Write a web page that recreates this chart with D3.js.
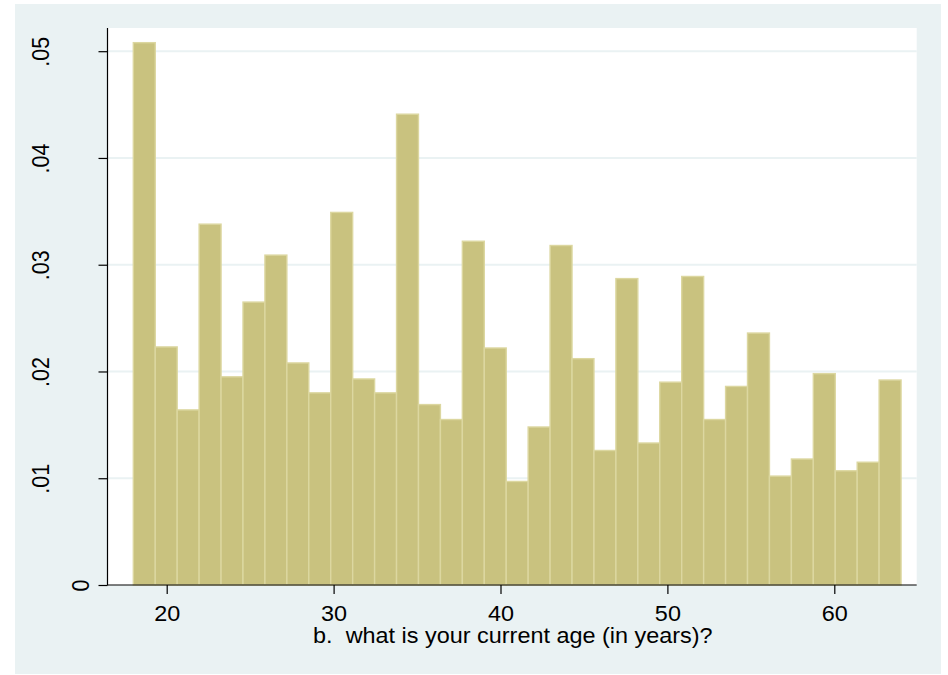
<!DOCTYPE html>
<html>
<head>
<meta charset="utf-8">
<script src="https://cdn.jsdelivr.net/npm/d3@7/dist/d3.min.js"></script>
<style>
  html, body { margin: 0; padding: 0; background: #ffffff; }
  svg { display: block; }
  text { font-family: "Liberation Sans", Arial, Helvetica, sans-serif; fill: #000; }
</style>
</head>
<body>
<svg id="chart" width="948" height="675"></svg>
<script>
// ---- data ----
const binStart = 18;
const binEnd = 64;
const density = [
  0.0508, 0.0223, 0.0164, 0.0338, 0.0195, 0.0265, 0.0309, 0.0208, 0.0180, 0.0349,
  0.0193, 0.0180, 0.0441, 0.0169, 0.0155, 0.0322, 0.0222, 0.0097, 0.0148, 0.0318,
  0.0212, 0.0126, 0.0287, 0.0133, 0.0190, 0.0289, 0.0155, 0.0186, 0.0236, 0.0102,
  0.0118, 0.0198, 0.0107, 0.0115, 0.0192
];
const xTicks = [20, 30, 40, 50, 60];
const yTicks = [0, 0.01, 0.02, 0.03, 0.04, 0.05];
const yTickLabels = ["0", ".01", ".02", ".03", ".04", ".05"];
const xTitle = "b.  what is your current age (in years)?";

// ---- layout ----
const svg = d3.select("#chart");
const W = 948, H = 675;
const bg = { x: 15, y: 4, w: 926, h: 670 };
const plot = { left: 108, right: 916.7, top: 28, bottom: 585 };
const stretch = 1.09;
const fontSize = 21.5;

const x = d3.scaleLinear().domain([20, 60]).range([166.7, 834.3]);
const y = d3.scaleLinear().domain([0, 0.05]).range([585, 51.2]);

svg.append("rect").attr("x", bg.x).attr("y", bg.y).attr("width", bg.w).attr("height", bg.h)
  .attr("fill", "#eaf2f3");
svg.append("rect").attr("x", plot.left).attr("y", plot.top)
  .attr("width", plot.right - plot.left).attr("height", plot.bottom - plot.top)
  .attr("fill", "#ffffff");

// gridlines
svg.append("g").selectAll("line").data(yTicks.filter(d => d > 0)).join("line")
  .attr("x1", plot.left).attr("x2", plot.right)
  .attr("y1", d => y(d)).attr("y2", d => y(d))
  .attr("stroke", "#eaf2f3").attr("stroke-width", 2);

// bars
const bw = (binEnd - binStart) / density.length;
svg.append("g").selectAll("rect").data(density).join("rect")
  .attr("x", (d, i) => x(binStart + i * bw))
  .attr("width", (d, i) => x(binStart + (i + 1) * bw) - x(binStart + i * bw))
  .attr("y", d => y(d))
  .attr("height", d => y(0) - y(d))
  .attr("fill", "#c9c27f")
  .attr("stroke", "#dcd7a0")
  .attr("stroke-width", 1.4);

// x axis
const xAxis = d3.axisBottom(x).tickValues(xTicks).tickSize(9).tickSizeOuter(0).tickFormat(d3.format("d"));
const gx = svg.append("g").attr("transform", `translate(0,${plot.bottom})`).call(xAxis);
gx.select(".domain").remove();
gx.selectAll(".tick line").attr("stroke", "#000").attr("stroke-width", 1.2);
gx.selectAll(".tick text")
  .attr("y", 0).attr("dy", 0)
  .attr("transform", `translate(0,36) scale(${stretch},1)`)
  .attr("font-size", fontSize)
  .attr("font-family", "Liberation Sans, Arial, sans-serif")
  .attr("fill", "#000");
svg.append("line").attr("x1", plot.left).attr("x2", plot.right)
  .attr("y1", plot.bottom).attr("y2", plot.bottom)
  .attr("stroke", "#000").attr("stroke-width", 1.2);

// y axis
const yAxis = d3.axisLeft(y).tickValues(yTicks).tickSize(9).tickSizeOuter(0)
  .tickFormat((d, i) => yTickLabels[i]);
const gy = svg.append("g").attr("transform", `translate(${plot.left - 0.5},0)`).call(yAxis);
gy.select(".domain").remove();
gy.selectAll(".tick line").attr("stroke", "#000").attr("stroke-width", 1.2);
gy.selectAll(".tick text")
  .attr("x", 0).attr("dy", 0)
  .attr("text-anchor", "middle")
  .attr("transform", (d, i) => `translate(${yTickLabels[i].length === 1 ? -18.2 : -58.2},0) scale(${stretch},1) rotate(-90)`)
  .attr("font-size", fontSize)
  .attr("font-family", "Liberation Sans, Arial, sans-serif")
  .attr("fill", "#000");
svg.append("line").attr("x1", plot.left - 0.5).attr("x2", plot.left - 0.5)
  .attr("y1", plot.top).attr("y2", plot.bottom + 0.6)
  .attr("stroke", "#000").attr("stroke-width", 1.2);

// axis title
svg.append("text")
  .attr("text-anchor", "middle")
  .attr("transform", `translate(${(plot.left + plot.right) / 2 + 0.5},642.7) scale(${stretch},1)`)
  .attr("font-size", fontSize)
  .attr("xml:space", "preserve")
  .style("white-space", "pre")
  .text(xTitle);
</script>
</body>
</html>
